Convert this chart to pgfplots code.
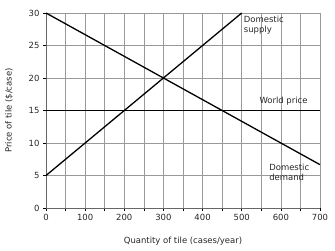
\documentclass[border=0pt]{standalone}
\usepackage{fontspec}
\setmainfont{DejaVu Sans}
\usepackage{pgfplots}
\pgfplotsset{compat=1.18}
\begin{document}
\begin{tikzpicture}
\path[use as bounding box] (-46bp,-43bp) rectangle (289bp,208bp);
\begin{axis}[
  at={(0,0)}, anchor=south west,
  scale only axis, width=274bp, height=195bp,
  xmin=0, xmax=700, ymin=0, ymax=30,
  xtick={0,100,...,700}, ytick={0,5,...,30},
  minor xtick={50,150,...,650},
  grid=both,
  major grid style={gray!80, line width=0.6pt},
  minor grid style={gray!80, line width=0.6pt},
  axis line style={gray!80!black, line width=0.6pt},
  tick style={black, line width=0.5pt},
  tick align=outside, major tick length=3pt, minor tick length=3pt,
  axis x line*=bottom, axis y line*=left,
  /pgf/number format/assume math mode=true,
  ticklabel style={font=\fontsize{8.5}{10}\selectfont, text=black!85},
  label style={font=\fontsize{8.5}{10}\selectfont, text=black!85},
  xlabel={Quantity of tile (cases/year)},
  ylabel={Price of tile (\$/case)},
  xlabel style={yshift=-9bp},
  ylabel style={yshift=9bp},
  clip=false,
]
% top and right borders
\addplot[gray!80, line width=0.6pt, no marks] coordinates {(0,30) (700,30) (700,0)};
% domestic supply
\addplot[black, line width=1.3pt, no marks] coordinates {(0,5) (500,30)};
% domestic demand
\addplot[black, line width=1.3pt, no marks] coordinates {(0,30) (700,6.667)};
% world price
\addplot[black, line width=1.3pt, no marks] coordinates {(0,15) (700,15)};
\node[anchor=north west, align=left, font=\fontsize{8.5}{10}\selectfont, text=black!85, inner sep=0pt] at (axis cs:505,29.6) {Domestic\\supply};
\node[anchor=south west, font=\fontsize{8.5}{10}\selectfont, text=black!85, inner sep=0pt] at (axis cs:545,15.8) {World price};
\node[anchor=north west, align=left, font=\fontsize{8.5}{10}\selectfont, text=black!85, inner sep=0pt] at (axis cs:570,6.8) {Domestic\\demand};
\end{axis}
\end{tikzpicture}
\end{document}
